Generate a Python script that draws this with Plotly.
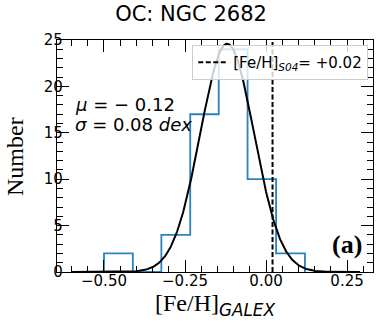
import numpy as np
import plotly.graph_objects as go

# ---- data ----
bin_edges = [-0.50, -0.411, -0.323, -0.234, -0.146, -0.057, 0.031, 0.12]
bin_counts = [2, 0, 4, 17, 24, 10, 2]
fit_mu = -0.12
fit_sigma = 0.083
fit_amplitude = 24.6
fit_x_range = [-0.60, 0.29]
feh_s04 = 0.02
x_tickvals = [-0.50, -0.25, 0.00, 0.25]
x_ticktext = ["\u22120.50", "\u22120.25", "0.00", "0.25"]
y_tickvals = [0, 5, 10, 15, 20, 25]
x_range = [-0.645, 0.33]
y_range = [0, 25]

# step outline of the histogram
step_x = [bin_edges[0]] + list(bin_edges)
step_y = [0] + list(bin_counts) + [0]

# gaussian fit curve from the fit parameters
gx = np.linspace(fit_x_range[0], fit_x_range[1], 400)
gy = fit_amplitude * np.exp(-0.5 * ((gx - fit_mu) / fit_sigma) ** 2)

fig = go.Figure()
fig.add_trace(go.Scatter(x=step_x, y=step_y, mode="lines", line_shape="hv",
                         line=dict(color="#2b82c0", width=1.8), showlegend=False,
                         hoverinfo="skip"))
fig.add_trace(go.Scatter(x=gx, y=gy, mode="lines",
                         line=dict(color="black", width=2), showlegend=False,
                         hoverinfo="skip"))
fig.add_trace(go.Scatter(x=[feh_s04, feh_s04], y=y_range, mode="lines",
                         line=dict(color="black", width=2, dash="5px,2.5px"),
                         name="[Fe/H]<sub><i>S04</i></sub>= +0.02",
                         showlegend=True))
# invisible trace that carries the mirrored (top/right) tick axes
fig.add_trace(go.Scatter(x=[x_range[0]], y=[y_range[0]], xaxis="x2", yaxis="y2",
                         mode="markers", marker=dict(opacity=0), showlegend=False,
                         hoverinfo="skip"))

tick_common = dict(showline=True, linecolor="black", linewidth=1.3,
                   ticks="inside", ticklen=12, tickwidth=1.2, tickcolor="black",
                   showgrid=False, zeroline=False, automargin=False)
x_minor = dict(ticks="inside", dtick=0.05, tick0=0, ticklen=6, tickwidth=1, tickcolor="black")
y_minor = dict(ticks="inside", dtick=1, tick0=0, ticklen=6, tickwidth=1, tickcolor="black")
tfont = dict(family="DejaVu Sans", size=15, color="black")

fig.update_layout(
    xaxis=dict(range=x_range, tickvals=x_tickvals, ticktext=x_ticktext, minor=x_minor,
               tickfont=tfont, ticklabelstandoff=-5,
               title=dict(text="[Fe/H]<sub><span style=\"font-family:'DejaVu Sans'\"><i>GALEX</i></span></sub>",
                          font=dict(family="Liberation Serif", size=24, color="black"),
                          standoff=2),
               **tick_common),
    yaxis=dict(range=y_range, tickvals=y_tickvals, minor=y_minor,
               tickfont=tfont, ticklabelstandoff=-10,
               **tick_common),
    xaxis2=dict(range=x_range, tickvals=x_tickvals, minor=x_minor, overlaying="x",
                side="top", showticklabels=False, anchor="y", **tick_common),
    yaxis2=dict(range=y_range, tickvals=y_tickvals, minor=y_minor, overlaying="y",
                side="right", showticklabels=False, anchor="x", **tick_common),
)

fig.add_annotation(x=-0.133, y=0.5, xref="paper", yref="paper", xanchor="center",
                   yanchor="middle", showarrow=False, textangle=-90, text="Number",
                   font=dict(family="Liberation Serif", size=24, color="black"))
fig.add_annotation(x=0.05, y=0.72, xref="paper", yref="paper", xanchor="left",
                   yanchor="middle", showarrow=False,
                   text="<i>\u03bc</i> = \u2212 0.12",
                   font=dict(family="DejaVu Sans", size=18, color="black"))
fig.add_annotation(x=0.05, y=0.634, xref="paper", yref="paper", xanchor="left",
                   yanchor="middle", showarrow=False,
                   text="<i>\u03c3</i> = 0.08 <i>dex</i>",
                   font=dict(family="DejaVu Sans", size=18, color="black"))
fig.add_annotation(x=0.919, y=0.1175, xref="paper", yref="paper", xanchor="center",
                   yanchor="middle", showarrow=False, text="<b>(a)</b>",
                   font=dict(family="Liberation Serif", size=26, color="black"))

fig.update_layout(
    width=382, height=327,
    margin=dict(l=57, r=9, t=40, b=55, autoexpand=False),
    paper_bgcolor="white", plot_bgcolor="white",
    title=dict(text="OC: NGC 2682", x=0.5, xref="container", xanchor="center",
               y=1 - 14 / 327, yref="container", yanchor="middle",
               font=dict(family="DejaVu Sans", size=21, color="black")),
    legend=dict(x=0.985, y=0.978, xanchor="right", yanchor="top",
                bgcolor="rgba(255,255,255,0.8)", bordercolor="#cccccc", borderwidth=1,
                font=dict(family="DejaVu Sans", size=15, color="black"),
                itemwidth=30, tracegroupgap=0),
)

fig.write_html("out.html", config={"displayModeBar": False},
               post_script="document.body.style.margin='0';document.body.style.padding='0';")
